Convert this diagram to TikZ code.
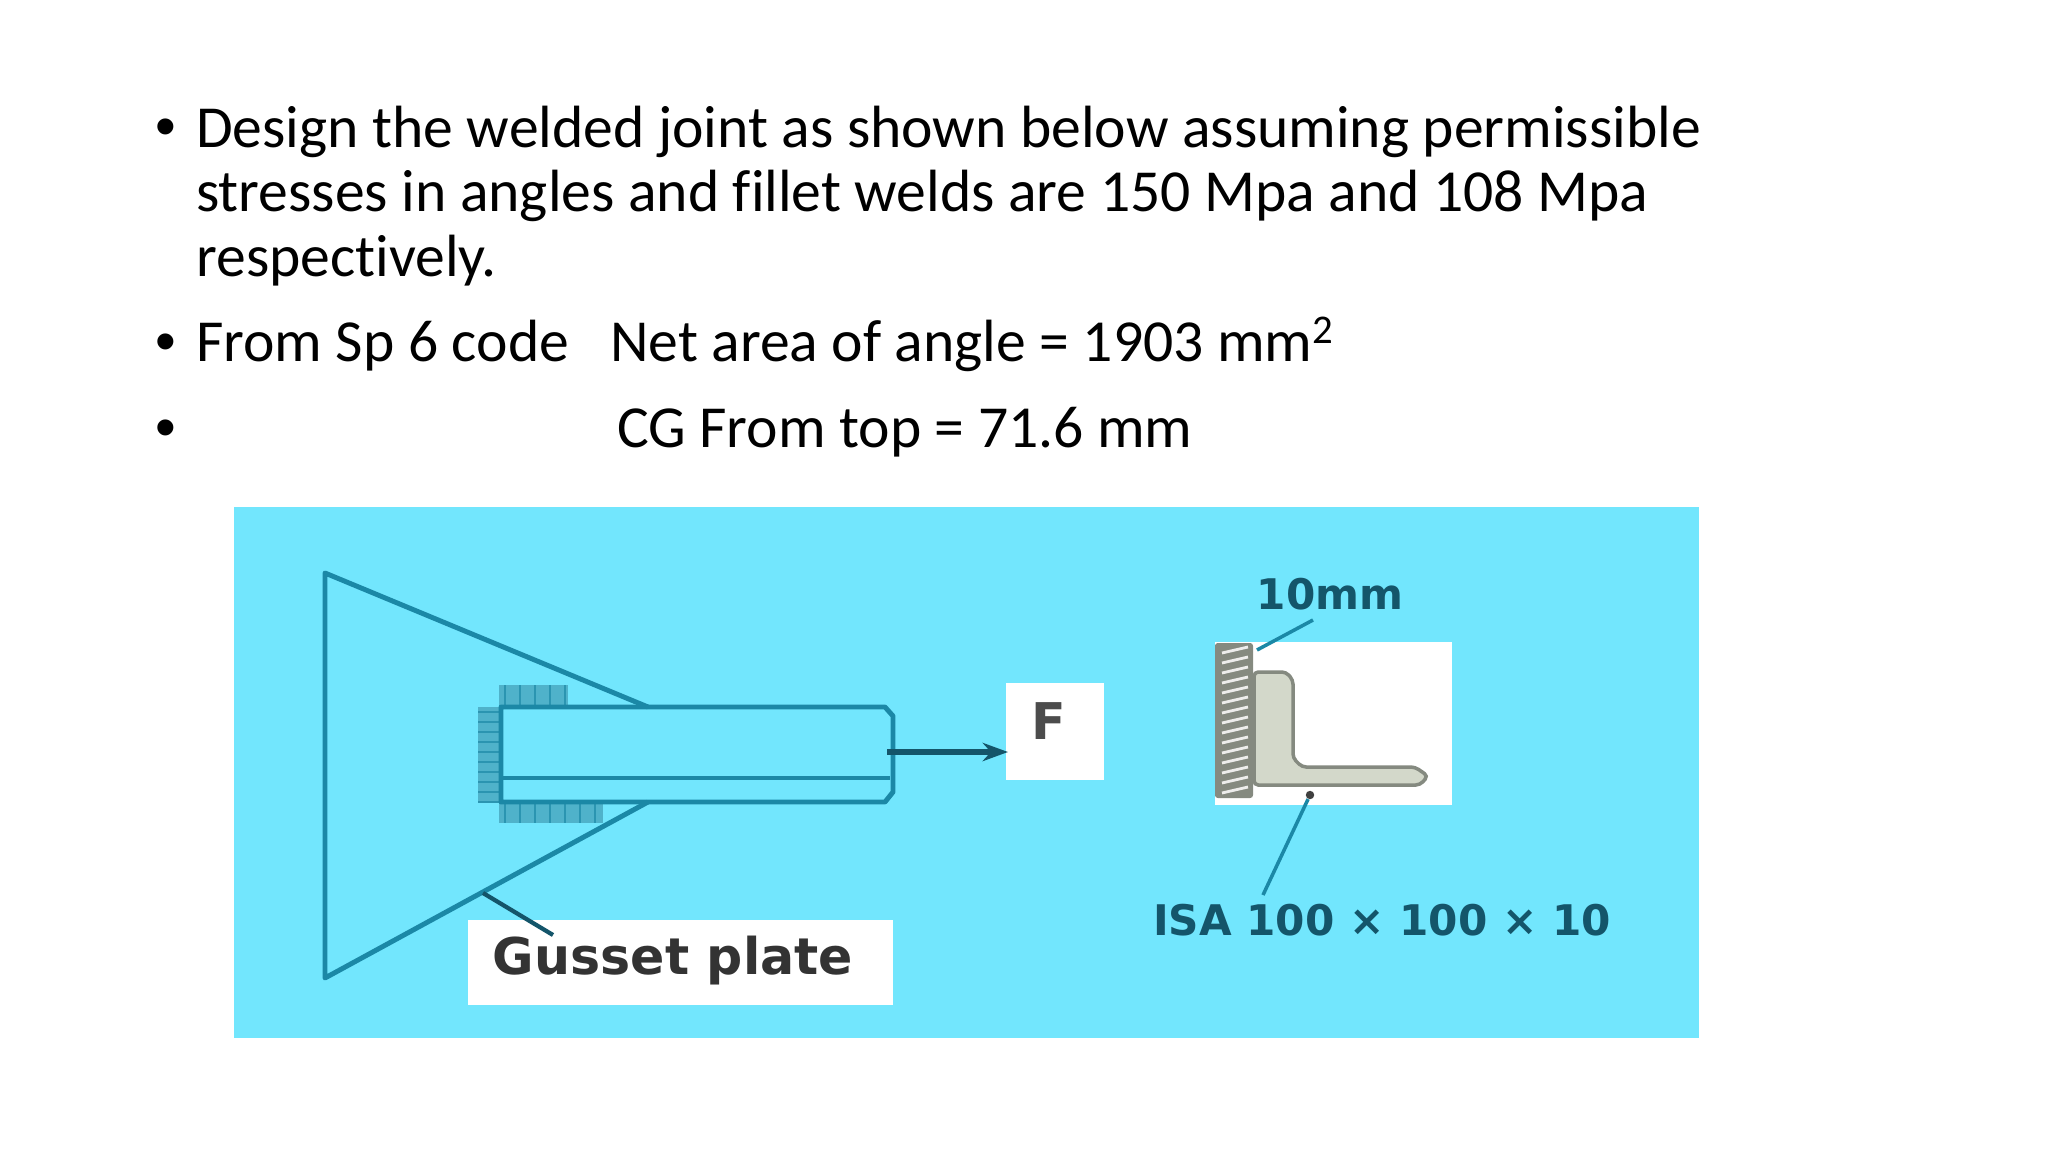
\documentclass[tikz,border=0pt]{standalone}
\usepackage{fontspec}
\usetikzlibrary{arrows.meta}
\setmainfont[Ligatures=NoCommon]{Carlito}
\newfontfamily\labelfont{Liberation Sans}
\newfontfamily\platefont{DejaVu Sans}
\definecolor{panelblue}{HTML}{72E6FD}
\definecolor{linkblue}{HTML}{1B88A6}
\definecolor{weldblue}{HTML}{4FB2CA}
\definecolor{labelteal}{HTML}{14556A}
\definecolor{anglegrey}{HTML}{D3D8CA}
\definecolor{rimgrey}{HTML}{858A80}
\tikzset{
    slidetext/.style={anchor=base west, inner sep=0pt, font=\fontsize{42.4}{48}\selectfont},
    slidebullet/.style={anchor=base, inner sep=0pt, font=\labelfont\fontsize{42}{48}\selectfont},
    platelabel/.style={inner sep=0pt, font=\platefont\bfseries\fontsize{30}{36}\selectfont},
    partline/.style={draw=linkblue, line width=3.5pt, line join=round},
    leaderline/.style={draw=linkblue, line width=2.5pt}
}
\begin{document}
\begin{tikzpicture}[x=0.025cm, y=-0.025cm]
    % Page size
    \useasboundingbox (0,0) rectangle (2048,1152);
    \fill[white] (0,0) rectangle (2048,1152);

    % Bulleted problem statement
    \node[slidebullet] (bulletA) at (166,146) {•};
    \node[slidetext] (lineA) at (196,147) {Design the welded joint as shown below assuming permissible};
    \node[slidetext] (lineB) at (196,211) {stresses in angles and fillet welds are 150 Mpa and 108 Mpa};
    \node[slidetext] (lineC) at (196,276) {respectively.};
    \node[slidebullet] (bulletB) at (166,361) {•};
    \node[slidetext] (lineD) at (196,361) {From Sp 6 code};
    \node[slidetext] (lineE) at (610,361) {Net area of angle = 1903 mm\raisebox{0.3em}{\fontsize{29}{29}\selectfont 2}};
    \node[slidebullet] (bulletC) at (166,447) {•};
    \node[slidetext] (lineF) at (617,447) {CG From top = 71.6 mm};

    % Blue panel
    \fill[panelblue] (234,507) rectangle (1699,1038);

    % White label boxes
    \fill[white] (468,920) rectangle (893,1005);
    \fill[white] (1006,683) rectangle (1104,780);
    \fill[white] (1215,642) rectangle (1452,805);
    \node[platelabel, text=black!80, font=\platefont\bfseries\fontsize{36}{42}\selectfont] (gusset) at (673,961) {Gusset plate};
    \node[platelabel, text=black!70, font=\platefont\bfseries\fontsize{36}{42}\selectfont] (force) at (1049,721) {F};

    % Weld runs on the gusset
    \fill[weldblue] (499,685) rectangle (568,707);
    \fill[weldblue] (478,707) rectangle (501,802);
    \fill[weldblue] (499,802) rectangle (603,823);
    \foreach \x in {505,520,...,565} \draw[linkblue!70!weldblue, line width=1.5pt] (\x,685) -- (\x,707);
    \foreach \x in {505,520,...,600} \draw[linkblue!70!weldblue, line width=1.5pt] (\x,802) -- (\x,823);
    \foreach \y in {712,722,...,802} \draw[linkblue!70!weldblue, line width=1pt] (478,\y) -- (501,\y);

    % Gusset plate
    \coordinate (plateEndA) at (648,707);
    \coordinate (plateEndB) at (648,802);
    \coordinate (plateTop) at (325,573);
    \coordinate (plateBottom) at (325,978);
    \draw[partline] (plateEndA) -- (plateTop) -- (plateBottom) -- (plateEndB);

    % Angle seen from the side
    \draw[partline] (501,707) -- (885,707) -- (893,716) -- (893,792) -- (885,802) -- (501,802) -- cycle;
    \draw[draw=linkblue, line width=3pt] (501,778) -- (890,778);

    % Pull on the angle
    \coordinate (pullStart) at (887,752);
    \coordinate (pullEnd) at (1008,752);
    \draw[-{Stealth[length=18pt, width=13pt]}, draw=labelteal, line width=4.5pt] (pullStart) -- (pullEnd);

    % Gusset leader
    \coordinate (gussetFoot) at (483,893);
    \coordinate (gussetTail) at (553,935);
    \draw[draw=labelteal, line width=3pt] (gussetFoot) -- (gussetTail);

    % End view: weld and angle section
    \fill[rimgrey, rounded corners=2pt] (1215,643) rectangle (1253,798);
    \foreach \y in {650,660,...,790} \draw[white!85!rimgrey, line width=2pt] (1222,\y+3) -- (1248,\y-3);
    \draw[fill=anglegrey, draw=rimgrey, line width=2.5pt, rounded corners=3pt] (1254,672) -- (1286,672) -- (1293,680) -- (1293,758) -- (1302,767) -- (1415,767) -- (1428,776) -- (1420,785) -- (1254,785) -- cycle;

    % End view labels
    \node[platelabel, text=labelteal] (weldsize) at (1330,594) {10mm};
    \node[platelabel, text=labelteal] (section) at (1382,920) {ISA 100 × 100 × 10};
    \coordinate (weldsizeTail) at (1313,620);
    \coordinate (weldsizeFoot) at (1257,650);
    \draw[leaderline] (weldsizeTail) -- (weldsizeFoot);
    \node[circle, fill=black!75, inner sep=0pt, minimum size=6pt] (centroid) at (1310,795) {};
    \coordinate (sectionTail) at (1263,895);
    \draw[leaderline] (centroid) -- (sectionTail);
\end{tikzpicture}
\end{document}
